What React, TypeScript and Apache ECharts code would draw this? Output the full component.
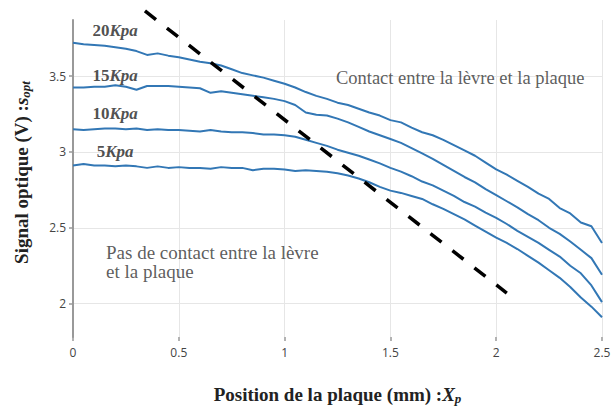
import React, { useEffect, useRef } from "react";
import * as echarts from "echarts";

// Position de la plaque (mm)
const positions = [
  0, 0.05, 0.1, 0.15, 0.2, 0.25, 0.3, 0.35, 0.4, 0.45,
  0.5, 0.55, 0.6, 0.65, 0.7, 0.75, 0.8, 0.85, 0.9, 0.95,
  1.0, 1.05, 1.1, 1.15, 1.2, 1.25, 1.3, 1.35, 1.4, 1.45,
  1.5, 1.55, 1.6, 1.65, 1.7, 1.75, 1.8, 1.85, 1.9, 1.95,
  2.0, 2.05, 2.1, 2.15, 2.2, 2.25, 2.3, 2.35, 2.4, 2.45, 2.5,
];

const signal20 = [
  3.72, 3.71, 3.705, 3.7, 3.69, 3.68, 3.665, 3.64, 3.65, 3.635,
  3.625, 3.61, 3.595, 3.585, 3.57, 3.545, 3.52, 3.505, 3.49, 3.47,
  3.45, 3.425, 3.395, 3.37, 3.35, 3.325, 3.31, 3.285, 3.26, 3.24,
  3.21, 3.195, 3.16, 3.13, 3.11, 3.08, 3.045, 3.01, 2.975, 2.93,
  2.885, 2.85, 2.81, 2.77, 2.725, 2.69, 2.63, 2.595, 2.535, 2.51, 2.4,
];
const signal15 = [
  3.425, 3.425, 3.43, 3.43, 3.44, 3.43, 3.41, 3.435, 3.435, 3.435,
  3.43, 3.425, 3.42, 3.39, 3.4, 3.39, 3.38, 3.37, 3.36, 3.35,
  3.335, 3.31, 3.26, 3.245, 3.24, 3.22, 3.195, 3.165, 3.135, 3.11,
  3.085, 3.06, 3.025, 2.99, 2.955, 2.915, 2.875, 2.835, 2.8, 2.755,
  2.715, 2.675, 2.635, 2.59, 2.55, 2.5, 2.46, 2.41, 2.355, 2.3, 2.19,
];
const signal10 = [
  3.15, 3.145, 3.15, 3.155, 3.155, 3.15, 3.155, 3.145, 3.15, 3.145,
  3.145, 3.14, 3.135, 3.145, 3.135, 3.13, 3.13, 3.125, 3.115, 3.115,
  3.11, 3.1, 3.08, 3.06, 3.04, 3.015, 2.995, 2.975, 2.95, 2.925,
  2.895, 2.87, 2.84, 2.805, 2.78, 2.745, 2.71, 2.67, 2.64, 2.6,
  2.565, 2.525, 2.48, 2.44, 2.4, 2.355, 2.31, 2.25, 2.2, 2.12, 2.01,
];
const signal5 = [
  2.91, 2.92, 2.91, 2.91, 2.905, 2.91, 2.905, 2.895, 2.905, 2.895,
  2.9, 2.895, 2.895, 2.89, 2.9, 2.895, 2.895, 2.88, 2.89, 2.89,
  2.885, 2.875, 2.88, 2.875, 2.87, 2.86, 2.845, 2.825, 2.8, 2.77,
  2.745, 2.73, 2.71, 2.69, 2.655, 2.625, 2.59, 2.555, 2.515, 2.475,
  2.435, 2.4, 2.36, 2.315, 2.27, 2.22, 2.17, 2.11, 2.04, 1.98, 1.91,
];

// Frontière contact / pas de contact (ligne pointillée)
const boundaryX = [0.34, 2.05];
const boundaryY = [3.93, 2.07];

// Étiquettes des courbes
const curveLabels = ["20", "15", "10", "5"];
const curveLabelX = [0.199, 0.199, 0.199, 0.199];
const curveLabelY = [3.8, 3.503, 3.254, 3.0];

const yTicks = [2, 2.5, 3, 3.5];

const BLUE = "#3277b5";
const SERIF = "'Liberation Serif', 'Times New Roman', serif";

export default function App() {
  const ref = useRef<HTMLDivElement>(null);

  useEffect(() => {
    if (!ref.current) return;
    const chart = echarts.init(ref.current, null, { renderer: "svg" });

    const mk = (ys: number[]) => positions.map((x, i) => [x, ys[i]]);
    const curveSeries = [signal20, signal15, signal10, signal5].map((ys, k) => ({
      type: "line",
      name: curveLabels[k] + "Kpa",
      data: mk(ys),
      symbol: "none",
      smooth: false,
      lineStyle: { color: BLUE, width: 2 },
      z: 2,
    }));

    const titleRich = {
      m: { fontFamily: SERIF, fontWeight: "bold", fontSize: 19, color: "#222", lineHeight: 22 },
      i: { fontFamily: SERIF, fontWeight: "bold", fontStyle: "italic", fontSize: 19, color: "#222", lineHeight: 22 },
      s: { fontFamily: SERIF, fontWeight: "bold", fontStyle: "italic", fontSize: 13, color: "#222", lineHeight: 12, verticalAlign: "bottom" },
    };

    const option: any = {
      animation: false,
      backgroundColor: "#ffffff",
      grid: { left: 73, right: 12, top: 20, bottom: 73 },
      xAxis: {
        type: "value",
        min: 0,
        max: 2.5,
        interval: 0.5,
        name: "{m|Position de la plaque (mm) :}{i|X}{s|p}",
        nameLocation: "middle",
        nameGap: 46,
        nameTextStyle: { rich: titleRich },
        axisLine: { show: false },
        axisTick: { show: true, length: 4, lineStyle: { color: "#999", width: 1.5 } },
        axisLabel: { color: "#444", fontFamily: "'Open Sans', sans-serif", fontSize: 12, margin: 9 },
        splitLine: { show: true, lineStyle: { color: "#e6e6e6", width: 1 } },
      },
      yAxis: {
        type: "value",
        min: 1.78,
        max: 3.87,
        name: "{m|Signal optique (V) :}{i|s}{s|opt}",
        nameLocation: "middle",
        nameRotate: 90,
        nameGap: 41,
        nameTextStyle: { rich: titleRich, padding: [0, 0, 0, 12] },
        axisLine: { show: true, lineStyle: { color: "#999", width: 2 } },
        axisTick: { show: true, length: 4, customValues: yTicks, lineStyle: { color: "#999", width: 1.5 } },
        axisLabel: { color: "#444", fontFamily: "'Open Sans', sans-serif", fontSize: 12, margin: 7, customValues: yTicks },
        splitLine: { show: true, lineStyle: { color: "#e6e6e6", width: 1 } },
      },
      series: [
        ...curveSeries,
        {
          type: "line",
          name: "frontiere",
          data: boundaryX.map((x, i) => [x, boundaryY[i]]),
          symbol: "none",
          clip: false,
          lineStyle: { color: "#000", width: 3.5, type: [14, 13.85], cap: "butt" },
          z: 3,
        },
        {
          type: "scatter",
          name: "curveLabels",
          symbolSize: 0,
          data: curveLabelX.map((x, i) => [x, curveLabelY[i]]),
          label: {
            show: true,
            position: "inside",
            formatter: (p: any) => "{n|" + curveLabels[p.dataIndex] + "}{i|Kpa}",
            rich: {
              n: { fontFamily: SERIF, fontWeight: "bold", fontSize: 17, color: "#222" },
              i: { fontFamily: SERIF, fontWeight: "bold", fontStyle: "italic", fontSize: 17, color: "#222" },
            },
          },
          z: 4,
        },
        {
          type: "scatter",
          name: "contact",
          symbolSize: 0,
          data: [[1.83, 3.485]],
          label: {
            show: true,
            position: "inside",
            formatter: "Contact entre la lèvre et la plaque",
            fontFamily: SERIF,
            fontSize: 18.5,
            color: "#333",
          },
          z: 4,
        },
        {
          type: "scatter",
          name: "pasContact",
          symbolSize: 0,
          data: [[0.156, 2.276]],
          label: {
            show: true,
            position: "right",
            distance: 0,
            align: "left",
            formatter: "Pas de contact entre la lèvre\net la plaque",
            fontFamily: SERIF,
            fontSize: 19,
            lineHeight: 19,
            color: "#333",
          },
          z: 4,
        },
      ],
    };

    chart.setOption(option);
    return () => chart.dispose();
  }, []);

  return (
    <div
      ref={ref}
      style={{ position: "fixed", left: 0, top: 0, width: 614, height: 410, background: "#fff" }}
    />
  );
}
